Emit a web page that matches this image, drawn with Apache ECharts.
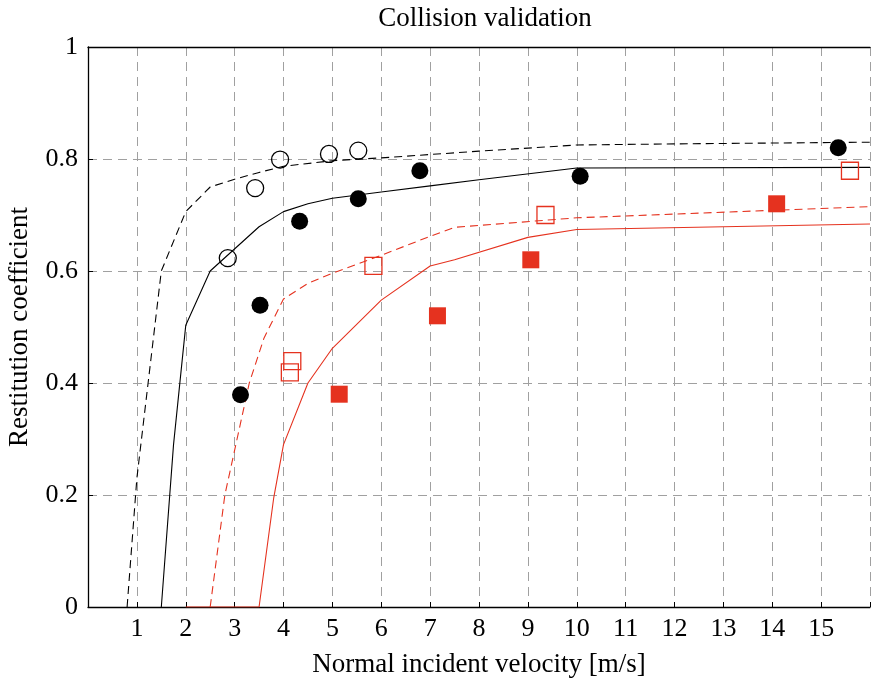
<!DOCTYPE html>
<html>
<head>
<meta charset="utf-8">
<title>Collision validation</title>
<script src="https://cdn.jsdelivr.net/npm/echarts@6/dist/echarts.min.js"></script>
<style>
  html, body { margin: 0; padding: 0; background: #ffffff; }
  #chart { width: 871px; height: 681px; }
</style>
</head>
<body>
<div id="chart"></div>
<script>
// Model curves: [normal incident velocity (m/s), restitution coefficient]
const modelDashedBlack = [[0.8,0],[1.0,0.23],[1.5,0.6],[2.0,0.706],[2.5,0.75],[3.0,0.764],[3.5,0.776],[4.0,0.787],[5.0,0.797],[6.0,0.802],[8.0,0.814],[10.0,0.825],[12.0,0.827],[16.0,0.83]];
const modelSolidBlack  = [[1.5,0],[1.75,0.29],[2.0,0.503],[2.5,0.6],[3.5,0.679],[4.0,0.706],[4.5,0.72],[5.0,0.73],[6.0,0.741],[7.0,0.752],[8.0,0.763],[10.0,0.784],[16.0,0.785]];
const modelDashedRed   = [[2.5,0],[2.8,0.2],[3.3,0.4],[3.6,0.48],[4.0,0.55],[4.5,0.578],[5.0,0.596],[6.0,0.628],[7.0,0.662],[7.5,0.678],[10.0,0.695],[16.0,0.715]];
const modelSolidRed    = [[2.0,0],[3.5,0],[3.8,0.195],[4.0,0.29],[4.5,0.4],[5.0,0.462],[6.0,0.548],[7.0,0.609],[7.5,0.62],[9.0,0.66],[10.0,0.674],[16.0,0.684]];

// Measurements
const openCircles   = [[2.86,0.623],[3.42,0.748],[3.93,0.799],[4.93,0.809],[5.53,0.815]];
const filledCircles = [[3.12,0.379],[3.52,0.539],[4.33,0.689],[5.53,0.729],[6.79,0.779],[10.07,0.769],[15.35,0.82]];
const openSquares   = [[4.13,0.419],[4.18,0.439],[5.84,0.609],[9.36,0.7],[15.59,0.779]];
const filledSquares = [[5.14,0.38],[7.15,0.52],[9.06,0.62],[14.09,0.72]];

// Axis ticks
const xTicks = [1,2,3,4,5,6,7,8,9,10,11,12,13,14,15];
const yTicks = ['0','0.2','0.4','0.6','0.8','1'];

const RED = '#e5321f';
const FONT = 'Liberation Serif';
const gridStyle = { color: '#a0a0a0', width: 1, type: [9, 6] };

const chart = echarts.init(document.getElementById('chart'), null, { renderer: 'canvas' });

const lineSeries = (data, color, dashed) => ({
  type: 'line', data, showSymbol: false, symbol: 'none', z: 3,
  lineStyle: { color, width: 1.1, type: dashed ? [8, 5] : 'solid' },
  emphasis: { disabled: true }, animation: false
});
const markSeries = (data, symbol, fill, stroke) => ({
  type: 'scatter', data, symbol, symbolSize: 17, z: 5,
  itemStyle: { color: fill, borderColor: stroke, borderWidth: fill === 'transparent' ? 1.3 : 0, opacity: 1 },
  emphasis: { disabled: true }, animation: false
});

chart.setOption({
  animation: false,
  backgroundColor: '#ffffff',
  title: {
    text: 'Collision validation',
    left: 480, top: 0, textAlign: 'center',
    textStyle: { fontFamily: FONT, fontSize: 27, fontWeight: 'normal', color: '#000' }
  },
  grid: { left: 88, right: 1, top: 47, bottom: 74, containLabel: false, outerBoundsMode: 'none' },
  xAxis: [{
    type: 'value', min: 0, max: 16, interval: 1, position: 'bottom',
    name: 'Normal incident velocity [m/s]', nameLocation: 'middle', nameGap: 44,
    nameTextStyle: { fontFamily: FONT, fontSize: 27, color: '#000' },
    axisLine: { show: true, lineStyle: { color: '#000', width: 1.3 } },
    axisTick: { show: true, inside: true, length: 5, lineStyle: { color: '#000', width: 1 } },
    axisLabel: {
      fontFamily: FONT, fontSize: 26, color: '#000', margin: 9,
      formatter: v => (xTicks.indexOf(v) >= 0 ? String(v) : '')
    },
    splitLine: { show: true, lineStyle: gridStyle }
  }, {
    type: 'value', min: 0, max: 16, interval: 1, position: 'top',
    axisLine: { show: true, lineStyle: { color: '#000', width: 1.3 } },
    axisTick: { show: false }, axisLabel: { show: false }, splitLine: { show: false }
  }],
  yAxis: {
    type: 'value', min: 0, max: 1, interval: 0.2,
    name: 'Restitution coefficient', nameLocation: 'middle', nameGap: 55,
    nameTextStyle: { fontFamily: FONT, fontSize: 27, color: '#000' },
    axisLine: { show: true, lineStyle: { color: '#000', width: 1.3 } },
    axisTick: { show: true, inside: true, length: 5, lineStyle: { color: '#000', width: 1 } },
    axisLabel: {
      fontFamily: FONT, fontSize: 26, color: '#000', margin: 10,
      formatter: v => yTicks[Math.round(v / 0.2)]
    },
    splitLine: { show: true, lineStyle: gridStyle }
  },
  series: [
    lineSeries(modelDashedBlack, '#000', true),
    lineSeries(modelSolidBlack, '#000', false),
    lineSeries(modelDashedRed, RED, true),
    lineSeries(modelSolidRed, RED, false),
    markSeries(openCircles, 'circle', 'transparent', '#000'),
    markSeries(filledCircles, 'circle', '#000', '#000'),
    markSeries(openSquares, 'rect', 'transparent', RED),
    markSeries(filledSquares, 'rect', RED, RED)
  ]
});
</script>
</body>
</html>
